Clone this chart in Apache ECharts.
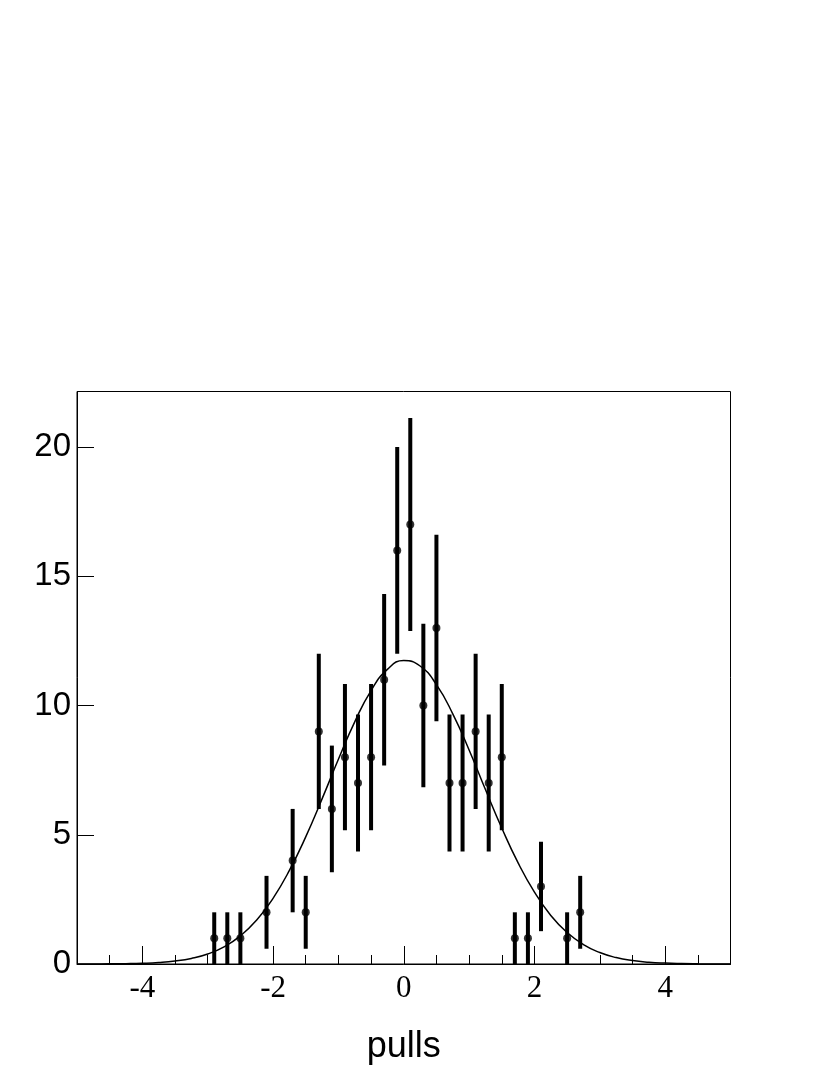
<!DOCTYPE html>
<html>
<head>
<meta charset="utf-8">
<script src="https://cdn.jsdelivr.net/npm/echarts@6/dist/echarts.min.js"></script>
<style>
html,body{margin:0;padding:0;background:#fff;}
#chart{width:830px;height:1075px;}
</style>
</head>
<body>
<div id="chart"></div>
<script>
// Histogram bin centres (pulls) and counts
var binCenters = [-2.9,-2.7,-2.5,-2.1,-1.7,-1.5,-1.3,-1.1,-0.9,-0.7,-0.5,-0.3,-0.1,0.1,0.3,0.5,0.7,0.9,1.1,1.3,1.5,1.7,1.9,2.1,2.5,2.7];
var counts = [1,1,1,2,4,2,9,6,8,7,8,11,16,17,10,13,7,7,9,7,8,1,1,3,1,2];
var countErrors = [1,1,1,1.41,2,1.41,3,2.45,2.83,2.65,2.83,3.32,4,4.12,3.16,3.61,2.65,2.65,3,2.65,2.83,1,1,1.73,1,1.41];

// Fitted curve
var curveX = [-5,-4.75,-4.5,-4.25,-4,-3.75,-3.5,-3.25,-3,-2.75,-2.5,-2.25,-2,-1.75,-1.5,-1.25,-1,-0.75,-0.5,-0.25,0,0.25,0.5,0.75,1,1.25,1.5,1.75,2,2.25,2.5,2.75,3,3.25,3.5,3.75,4,4.25,4.5,4.75,5];
var curveY = [0.001,0.0024,0.0057,0.013,0.028,0.058,0.115,0.215,0.387,0.664,1.088,1.70,2.54,3.62,4.92,6.39,7.92,9.37,10.58,11.40,11.74,11.53,10.81,9.68,8.28,6.75,5.26,3.91,2.78,1.88,1.22,0.751,0.443,0.249,0.134,0.069,0.034,0.016,0.007,0.003,0.0012];

// Axis ticks
var xMajorTicks = [-4,-2,0,2,4];
var yMajorTicks = [0,5,10,15,20];
var xTitle = 'pulls';

var chart = echarts.init(document.getElementById('chart'), null, {renderer:'canvas'});

var pts = binCenters.map(function(x,i){return [x, counts[i], countErrors[i]];});
var curve = curveX.map(function(x,i){return [x, curveY[i]];});

var option = {
  backgroundColor: '#ffffff',
  animation: false,
  grid: {left:77, top:391.5, right:99.5, bottom:111, show:true, borderColor:'#000', borderWidth:1, backgroundColor:'transparent'},
  xAxis: [{
    type:'value', min:-5, max:5, interval:0.5,
    name: xTitle, nameLocation:'middle', nameGap:65,
    nameTextStyle:{fontFamily:'Liberation Sans', fontSize:36, color:'#000'},
    axisLine:{show:true, onZero:false, lineStyle:{color:'#000', width:1}},
    axisTick:{show:true, inside:true, length:18, customValues:xMajorTicks, lineStyle:{color:'#000', width:1}},
    axisLabel:{show:true, customValues:xMajorTicks, margin:9, fontFamily:'Liberation Serif', fontSize:31, color:'#000'},
    splitLine:{show:false}
  },{
    type:'value', min:-5, max:5, interval:0.5, position:'bottom',
    axisLine:{show:false},
    axisTick:{show:true, inside:true, length:9, lineStyle:{color:'#000', width:1}},
    axisLabel:{show:false},
    splitLine:{show:false}
  }],
  yAxis: {
    type:'value', min:0, max:22.15, interval:5,
    axisLine:{show:true, onZero:false, lineStyle:{color:'#000', width:1}},
    axisTick:{show:true, inside:true, length:17, customValues:yMajorTicks, lineStyle:{color:'#000', width:1}},
    axisLabel:{show:true, customValues:yMajorTicks, margin:6, fontFamily:'Liberation Sans', fontSize:33, color:'#000'},
    splitLine:{show:false}
  },
  series: [
    {
      type:'custom', xAxisIndex:0, yAxisIndex:0,
      data: pts,
      renderItem: function(params, api){
        var x = api.value(0), y = api.value(1), e = api.value(2);
        var p1 = api.coord([x, y - e]);
        var p2 = api.coord([x, y + e]);
        return {type:'line', shape:{x1:p1[0], y1:p1[1], x2:p2[0], y2:p2[1]},
                style:{stroke:'#000', lineWidth:4}};
      },
      encode:{x:0, y:1},
      z:2
    },
    {
      type:'scatter', xAxisIndex:0, yAxisIndex:0,
      data: pts.map(function(p){return [p[0], p[1]];}),
      symbol:'circle', symbolSize:8,
      itemStyle:{color:'#000'},
      z:3
    },
    {
      type:'line', xAxisIndex:0, yAxisIndex:0,
      data: curve, smooth:true, showSymbol:false,
      lineStyle:{color:'#000', width:1.5},
      z:4
    }
  ]
};
chart.setOption(option);
</script>
</body>
</html>
